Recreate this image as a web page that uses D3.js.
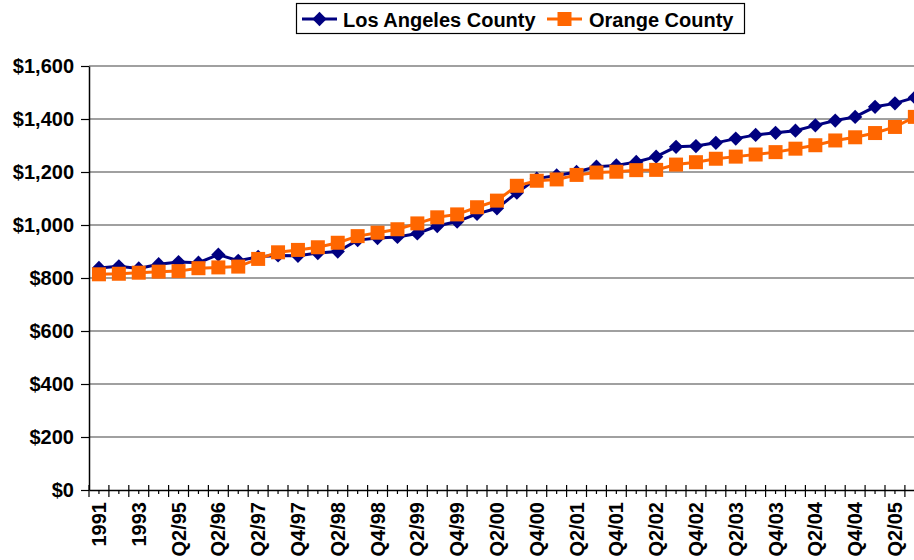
<!DOCTYPE html>
<html>
<head>
<meta charset="utf-8">
<script src="https://cdn.jsdelivr.net/npm/d3@7"></script>
<style>
  body { margin: 0; background: #fff; }
  svg { display: block; }
</style>
</head>
<body>
<div id="chart"></div>
<script>
// Data
const categories = [
  "1991", "1992", "1993", "1994", "Q2/95", "Q4/95", "Q2/96", "Q4/96",
  "Q2/97", "Q3/97", "Q4/97", "Q1/98", "Q2/98", "Q3/98", "Q4/98", "Q1/99",
  "Q2/99", "Q3/99", "Q4/99", "Q1/00", "Q2/00", "Q3/00", "Q4/00", "Q1/01",
  "Q2/01", "Q3/01", "Q4/01", "Q1/02", "Q2/02", "Q3/02", "Q4/02", "Q1/03",
  "Q2/03", "Q3/03", "Q4/03", "Q1/04", "Q2/04", "Q3/04", "Q4/04", "Q1/05",
  "Q2/05", "Q3/05"
];
const losAngeles = [
  838, 844, 836, 852, 860, 858, 888, 865, 880, 885, 884, 894, 900, 943,
  951, 955, 968, 996, 1013, 1042, 1063, 1122, 1175, 1187, 1200, 1220, 1225,
  1238, 1258, 1295, 1298, 1310, 1326, 1340, 1348, 1356, 1376, 1394, 1408,
  1446, 1459, 1481
];
const orange = [
  814, 816, 820, 824, 826, 837, 840, 843, 872, 897, 906, 916, 933, 958,
  971, 984, 1006, 1029, 1040, 1067, 1092, 1148, 1167, 1172, 1189, 1198, 1201,
  1207, 1208, 1228, 1237, 1250, 1258, 1266, 1275, 1288, 1301, 1319, 1331,
  1347, 1370, 1408
];
const yTicks = [0, 200, 400, 600, 800, 1000, 1200, 1400, 1600];

const seriesNames = ["Los Angeles County", "Orange County"];
const colors = ["#000080", "#FF6600"];

const W = 914, H = 560;
const plot = { left: 89, top: 66, bottom: 490, right: 924.8 };
const font = "'Liberation Sans', Arial, sans-serif";

const svg = d3.select("#chart")
  .append("svg")
  .attr("width", W)
  .attr("height", H);

const x = d3.scaleBand()
  .domain(categories)
  .range([plot.left, plot.right])
  .padding(0);

const y = d3.scaleLinear()
  .domain([0, 1600])
  .range([plot.bottom, plot.top]);

const cx = d => x(d) + x.bandwidth() / 2;

// gridlines
svg.append("g")
  .selectAll("line")
  .data(yTicks.filter(d => d > 0))
  .enter()
  .append("line")
  .attr("x1", plot.left)
  .attr("x2", plot.right)
  .attr("y1", d => y(d))
  .attr("y2", d => y(d))
  .attr("stroke", "#808080")
  .attr("stroke-width", 1.5);

// y axis
const yAxis = svg.append("g")
  .attr("class", "y-axis")
  .attr("transform", `translate(${plot.left},0)`)
  .call(d3.axisLeft(y).tickValues(yTicks).tickFormat(d3.format("$,")).tickSize(8).tickPadding(7).tickSizeOuter(0));

yAxis.select("path").attr("stroke", "#000").attr("stroke-width", 1.5);
yAxis.selectAll("line").attr("stroke", "#000").attr("stroke-width", 1.2);
yAxis.selectAll("text")
  .attr("fill", "#000")
  .style("font-family", font)
  .style("font-size", "20px")
  .style("font-weight", "bold");

// x axis
const xAxis = svg.append("g")
  .attr("class", "x-axis")
  .attr("transform", `translate(0,${plot.bottom})`)
  .call(d3.axisBottom(x).tickSize(0).tickPadding(0)
    .tickFormat((d, i) => i % 2 === 0 ? d : ""));

xAxis.select("path").attr("stroke", "#000").attr("stroke-width", 1.5);
xAxis.selectAll("text")
  .attr("fill", "#000")
  .attr("transform", "rotate(-90)")
  .attr("x", -12)
  .attr("y", 0)
  .attr("dy", "0.35em")
  .style("text-anchor", "end")
  .style("font-family", font)
  .style("font-size", "20px")
  .style("font-weight", "bold");

// category boundary ticks
const bounds = categories.map(c => x(c)).concat([plot.right]);
svg.append("g")
  .selectAll("line")
  .data(bounds)
  .enter()
  .append("line")
  .attr("x1", d => d)
  .attr("x2", d => d)
  .attr("y1", plot.bottom - 5)
  .attr("y2", plot.bottom + 7)
  .attr("stroke", "#000")
  .attr("stroke-width", 1.2);

svg.append("g")
  .selectAll("line")
  .data(categories)
  .enter()
  .append("line")
  .attr("x1", d => cx(d))
  .attr("x2", d => cx(d))
  .attr("y1", plot.bottom)
  .attr("y2", plot.bottom + 4)
  .attr("stroke", "#000")
  .attr("stroke-width", 1.2);

// series
const line = d3.line()
  .x((d, i) => cx(categories[i]))
  .y(d => y(d));

const diamond = d3.symbol().type(d3.symbolDiamond2).size(130);
const square = d3.symbol().type(d3.symbolSquare).size(196);

[losAngeles, orange].forEach((vals, k) => {
  const g = svg.append("g");
  g.append("path")
    .datum(vals)
    .attr("d", line)
    .attr("fill", "none")
    .attr("stroke", colors[k])
    .attr("stroke-width", 3);
  g.selectAll(".pt")
    .data(vals)
    .enter()
    .append("path")
    .attr("class", "pt")
    .attr("transform", (d, i) => `translate(${cx(categories[i])},${y(d)})`)
    .attr("d", k === 0 ? diamond : square)
    .attr("fill", colors[k]);
});

// legend
const legend = svg.append("g");
legend.append("rect")
  .attr("x", 296.5)
  .attr("y", 3.5)
  .attr("width", 448)
  .attr("height", 30)
  .attr("fill", "#fff")
  .attr("stroke", "#000")
  .attr("stroke-width", 1.2);

const legendItems = [
  { x: 302, textX: 343 },
  { x: 547, textX: 589 }
];
legendItems.forEach((it, k) => {
  legend.append("line")
    .attr("x1", it.x)
    .attr("x2", it.x + 35)
    .attr("y1", 19)
    .attr("y2", 19)
    .attr("stroke", colors[k])
    .attr("stroke-width", 3);
  legend.append("path")
    .attr("transform", `translate(${it.x + 17.5},19)`)
    .attr("d", k === 0 ? diamond : square)
    .attr("fill", colors[k]);
  legend.append("text")
    .attr("x", it.textX)
    .attr("y", 27)
    .style("font-family", font)
    .style("font-size", "20px")
    .style("font-weight", "bold")
    .text(seriesNames[k]);
});
</script>
</body>
</html>
